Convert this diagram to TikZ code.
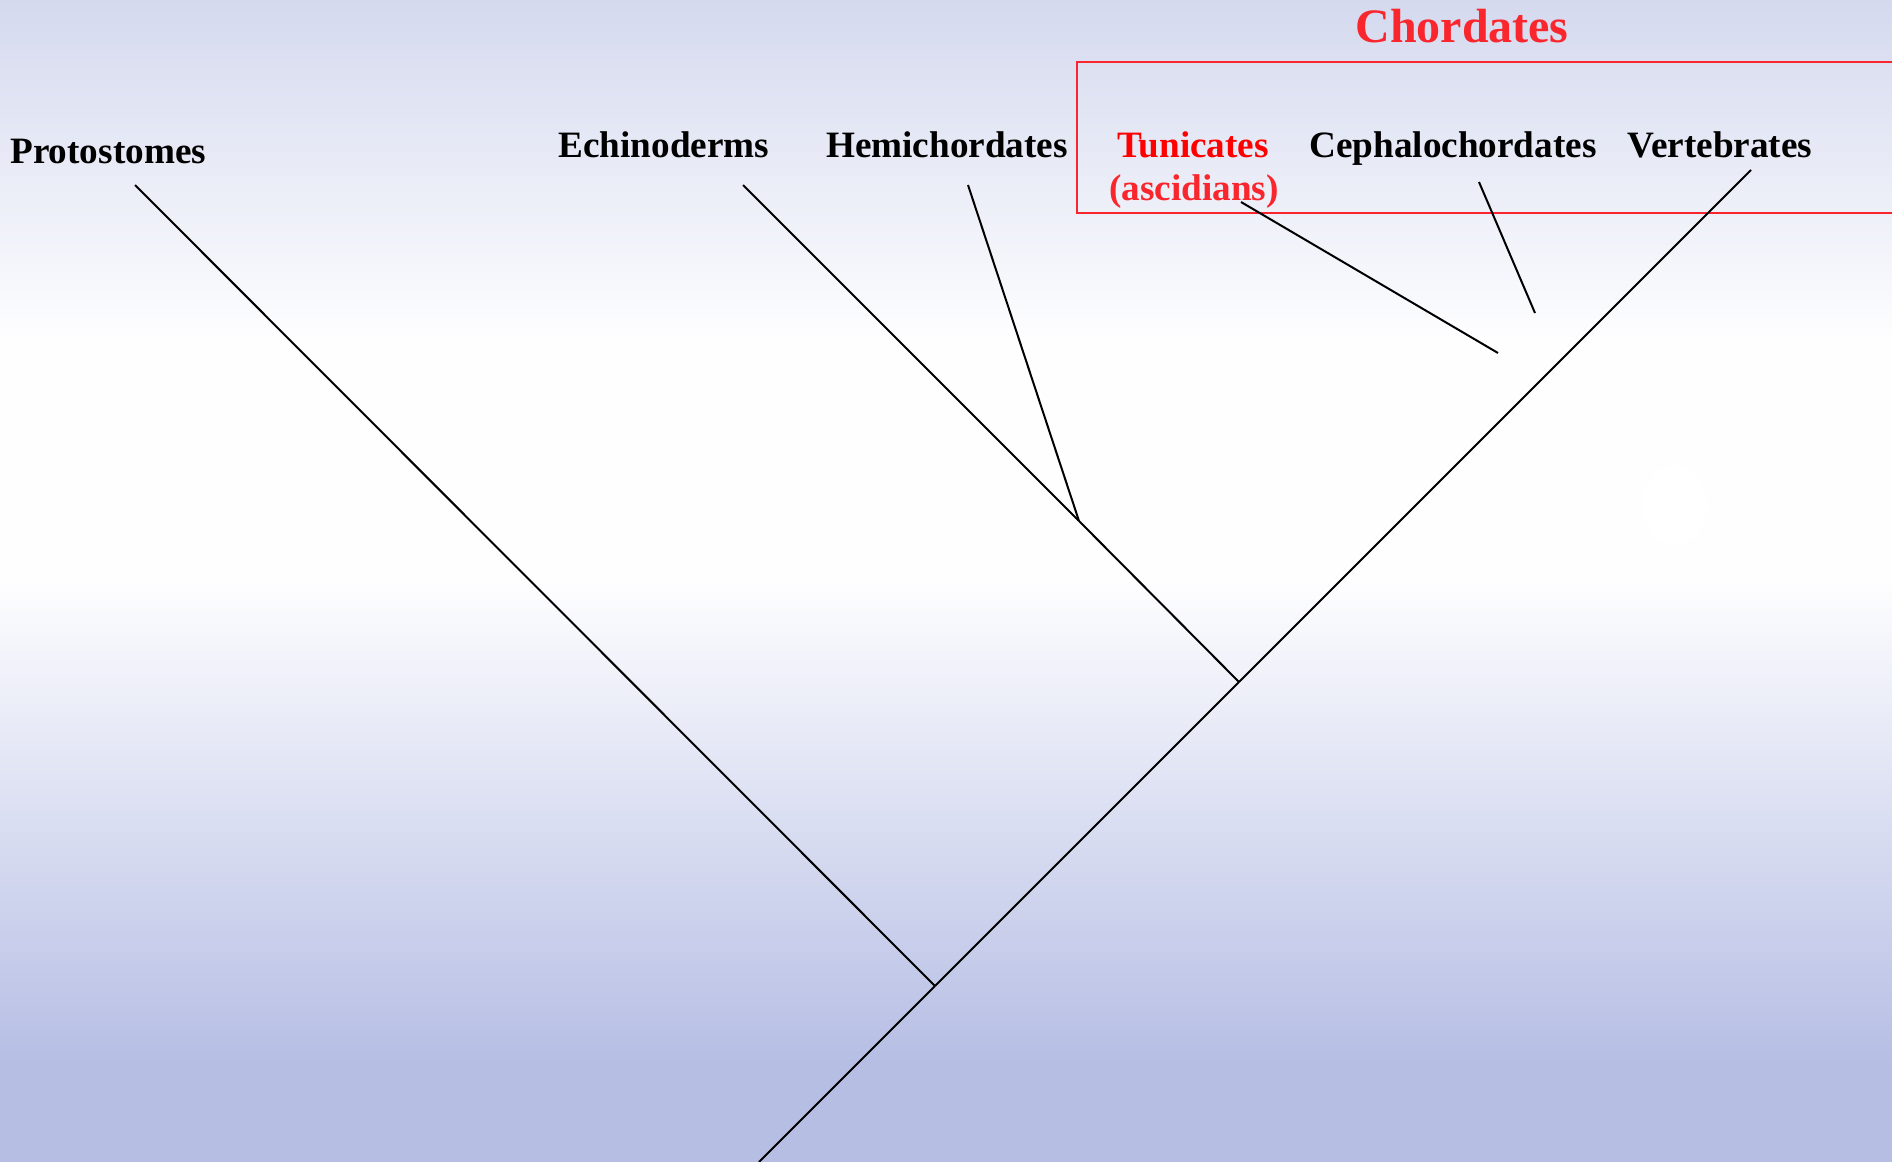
\documentclass[tikz,border=0pt]{standalone}
\usepackage{fontspec}
\setmainfont{Liberation Serif}
\definecolor{bgtop}{RGB}{212,217,238}
\definecolor{bgmid}{RGB}{254,254,255}
\definecolor{bgbot}{RGB}{182,190,228}
\definecolor{chred}{RGB}{250,38,45}
\definecolor{tred}{RGB}{255,0,0}
\begin{document}
\begin{tikzpicture}[x=0.5pt,y=-0.5pt,
  branch/.style={draw=black, line width=1pt},
  lbl/.style={font=\fontsize{18.6}{22}\selectfont\bfseries, inner sep=0pt, anchor=base},
  biglbl/.style={font=\fontsize{24}{28}\selectfont\bfseries, inner sep=0pt, anchor=base, text=chred},
]
\useasboundingbox (0,0) rectangle (1892,1162);
% background
\fill[top color=bgtop,bottom color=bgmid] (0,0) rectangle (1892,341);
\fill[bgmid] (0,340) rectangle (1892,581);
\fill[top color=bgmid,bottom color=bgbot] (0,580) rectangle (1892,1062);
\fill[bgbot] (0,1061) rectangle (1892,1162);
\fill[white] (1675,505) ellipse (32 and 40);
% chordate box
\draw[chred, line width=1pt] (1900,62) -- (1077,62) -- (1077,213) -- (1900,213);
% tree coordinates
\coordinate (root) at (759,1162);
\coordinate (A) at (935,986);
\coordinate (B) at (1239,682);
\coordinate (C) at (1079,521);
\coordinate (protip) at (135,185);
\coordinate (echtip) at (743,185);
\coordinate (hemtip) at (968,185);
\coordinate (vertip) at (1751,170);
\coordinate (tunA) at (1241,202);
\coordinate (tunB) at (1498,353);
\coordinate (cepA) at (1479,182);
\coordinate (cepB) at (1535,313);
% branches
\draw[branch] (root) -- (A);
\draw[branch] (A) -- (B);
\draw[branch] (B) -- (vertip);
\draw[branch] (A) -- (protip);
\draw[branch] (B) -- (C);
\draw[branch] (C) -- (echtip);
\draw[branch] (C) -- (hemtip);
\draw[branch] (tunA) -- (tunB);
\draw[branch] (cepA) -- (cepB);
% labels
\node[lbl, anchor=base west] (pro) at (10,163) {Protostomes};
\node[lbl] (ech) at (664,157) {Echinoderms};
\node[lbl] (hem) at (947,157) {Hemichordates};
\node[lbl, text=tred] (tun) at (1193,157) {Tunicates};
\node[lbl, text=chred] (asc) at (1194,200) {(ascidians)};
\node[lbl] (cep) at (1453,157) {Cephalochordates};
\node[lbl] (ver) at (1720,157) {Vertebrates};
\node[biglbl] (chd) at (1462,42) {Chordates};
\end{tikzpicture}
\end{document}
